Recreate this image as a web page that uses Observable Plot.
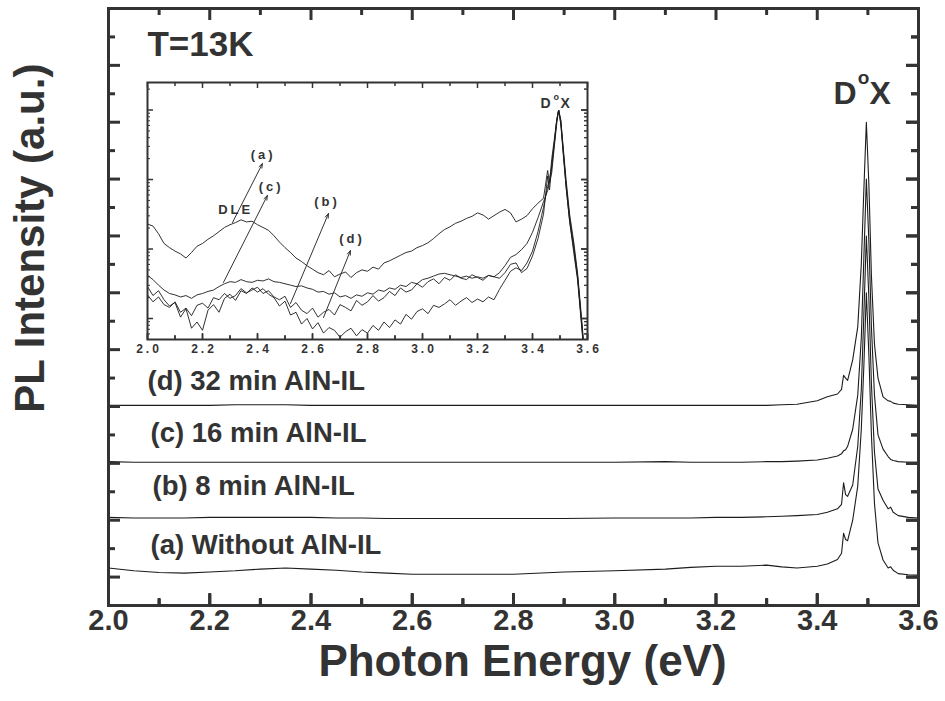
<!DOCTYPE html>
<html><head><meta charset="utf-8">
<script src="https://cdn.jsdelivr.net/npm/d3@7"></script>
<script src="https://cdn.jsdelivr.net/npm/@observablehq/plot@0.6"></script>
<style>
html,body{margin:0;padding:0;background:#fff;overflow:hidden;}
#wrap{position:relative;width:945px;height:701px;}
#wrap svg text{font-family:"Liberation Sans",Arial,Helvetica,sans-serif;}
#wrap svg.insetplot text{letter-spacing:3px;}
</style></head><body><div id="wrap"></div>
<script>
// ---------- main panel data (normalized PL, vertically offset as plotted) ----------
const seriesNames = ["a","b","c","d"];
const mainE = [2.00,2.05,2.10,2.15,2.20,2.25,2.30,2.35,2.40,2.45,2.50,2.55,2.60,2.70,2.80,2.90,3.00,3.10,3.15,3.20,3.25,3.30,3.33,3.36,3.40,3.42,3.44,3.448,3.452,3.456,3.46,3.47,3.48,3.487,3.492,3.497,3.502,3.507,3.513,3.52,3.53,3.54,3.545,3.55,3.56,3.58,3.60];
const mainA = [0.16,0.11,0.08,0.07,0.09,0.11,0.14,0.16,0.14,0.12,0.09,0.07,0.05,0.05,0.05,0.09,0.11,0.14,0.17,0.19,0.19,0.21,0.18,0.16,0.19,0.23,0.31,0.42,0.77,0.66,0.64,1.0,1.6,2.6,3.7,5.0,3.9,2.5,1.3,0.6,0.3,0.16,0.18,0.12,0.06,0.04,0.035];
const mainB = [1.05,1.04,1.04,1.04,1.05,1.05,1.05,1.05,1.05,1.04,1.04,1.03,1.03,1.03,1.03,1.03,1.04,1.04,1.04,1.05,1.05,1.06,1.07,1.08,1.10,1.14,1.20,1.28,1.66,1.45,1.42,1.62,2.3,3.3,4.6,6.0,4.9,3.4,2.2,1.55,1.35,1.2,1.23,1.14,1.08,1.05,1.04];
const mainC = [2.03,2.02,2.02,2.02,2.02,2.02,2.02,2.02,2.02,2.02,2.02,2.02,2.02,2.02,2.02,2.02,2.02,2.03,2.02,2.02,2.02,2.03,2.03,2.04,2.06,2.09,2.13,2.17,2.22,2.24,2.30,2.6,3.2,4.2,5.6,7.0,5.9,4.4,3.2,2.5,2.25,2.12,2.07,2.05,2.03,2.02,2.02];
const mainD = [3.02,3.02,3.02,3.02,3.02,3.03,3.03,3.03,3.02,3.02,3.02,3.02,3.02,3.02,3.02,3.02,3.02,3.02,3.02,3.02,3.02,3.02,3.03,3.04,3.10,3.17,3.22,3.30,3.55,3.50,3.46,3.82,4.4,5.5,6.8,8.0,6.9,5.3,4.1,3.5,3.17,3.1,3.09,3.06,3.04,3.03,3.02];
const mainVals = [mainA, mainB, mainC, mainD];

// main axes
const xDomain = [2.0, 3.6];
const yDomain = [-0.5, 10];
const xMajor = [2.0,2.2,2.4,2.6,2.8,3.0,3.2,3.4,3.6];
const xMinor = [2.1,2.3,2.5,2.7,2.9,3.1,3.3,3.5];
const yMajor = [0,1,2,3,4,5,6,7,8,9];
const yMinor = [0.5,1.5,2.5,3.5,4.5,5.5,6.5,7.5,8.5,9.5];
const xTitle = "Photon Energy (eV)";
const yTitle = "PL Intensity (a.u.)";
const yTitlePos = [1.847, 5.96];

// main annotations
const noteText = ["T=13K","(d) 32 min AlN-IL","(c) 16 min AlN-IL","(b) 8 min AlN-IL","(a) Without AlN-IL"];
const noteX = [2.077,2.077,2.083,2.087,2.083];
const noteY = [9.36,3.45,2.53,1.60,0.56];
const noteSize = [35,27.5,27.5,27.5,27.5];
const dxText = ["D","o","X"];
const dxX = [3.432,3.480,3.503];
const dxY = [8.50,8.78,8.50];
const dxSize = [32,19,32];

// ---------- inset data (log10 of normalized PL) ----------
const insetE = [2.00,2.02,2.04,2.06,2.08,2.10,2.12,2.14,2.16,2.18,2.20,2.22,2.24,2.26,2.28,2.30,2.32,2.34,2.36,2.38,2.40,2.42,2.44,2.46,2.48,2.50,2.52,2.54,2.56,2.58,2.60,2.62,2.64,2.66,2.68,2.70,2.72,2.74,2.76,2.78,2.80,2.82,2.84,2.86,2.88,2.90,2.92,2.94,2.96,2.98,3.00,3.02,3.04,3.06,3.08,3.10,3.12,3.14,3.16,3.18,3.20,3.22,3.24,3.26,3.28,3.30,3.32,3.34,3.36,3.38,3.40,
  3.42,3.44,3.455,3.462,3.47,3.48,3.488,3.495,3.503,3.512,3.522,3.535,3.55,3.564,3.575,3.585,3.60];
const insetA = [1.36,1.33,1.22,1.08,1.02,0.97,0.93,0.87,0.95,1.04,
  1.08,1.14,1.19,1.25,1.31,1.35,1.38,1.42,1.39,1.40,
  1.35,1.31,1.27,1.19,1.10,1.02,0.95,0.87,0.82,0.76,
  0.71,0.66,0.63,0.69,0.60,0.64,0.67,0.59,0.66,0.70,
  0.68,0.74,0.71,0.80,0.83,0.87,0.91,0.95,0.97,1.02,
  1.05,1.09,1.15,1.22,1.28,1.32,1.37,1.40,1.44,1.47,
  1.52,1.49,1.43,1.48,1.53,1.57,1.52,1.39,1.43,1.48,
  1.58,
  1.66,1.73,2.13,1.95,2.3,2.6,2.85,3.0,2.85,2.45,2.0,1.5,1.1,0.65,0.16,-0.3,-0.7];
const insetB = [0.34,0.24,0.31,0.20,0.16,0.24,0.09,0.15,0.04,0.19,
  0.22,0.15,0.30,0.27,0.36,0.29,0.33,0.43,0.37,0.41,
  0.45,0.36,0.40,0.31,0.27,0.32,0.16,0.23,0.12,0.07,
  0.15,0.02,0.09,0.13,0.05,0.20,0.16,0.11,0.26,0.19,
  0.24,0.33,0.25,0.30,0.39,0.33,0.44,0.38,0.41,0.50,
  0.45,0.53,0.57,0.50,0.59,0.55,0.63,0.58,0.56,0.63,
  0.59,0.55,0.62,0.60,0.58,0.66,0.78,0.80,0.66,0.72,
  0.90,
  1.15,1.5,2.05,1.85,2.2,2.55,2.85,3.0,2.8,2.35,1.9,1.4,0.95,0.55,0.05,-0.4,-0.7];
const insetC = [0.62,0.56,0.48,0.41,0.36,0.34,0.31,0.33,0.29,0.34,
  0.36,0.39,0.41,0.46,0.50,0.53,0.52,0.56,0.53,0.52,
  0.55,0.54,0.57,0.53,0.52,0.50,0.48,0.46,0.47,0.44,
  0.42,0.38,0.39,0.35,0.37,0.31,0.33,0.29,0.34,0.32,
  0.37,0.35,0.41,0.39,0.44,0.42,0.48,0.46,0.52,0.50,
  0.56,0.58,0.61,0.64,0.65,0.63,0.61,0.59,0.61,0.58,
  0.60,0.58,0.62,0.60,0.66,0.76,0.88,0.92,0.99,1.08,
  1.24,
  1.45,1.68,1.84,1.96,2.1,2.5,2.8,3.0,2.85,2.4,1.95,1.45,1.05,0.6,0.1,-0.35,-0.7];
const insetD = [0.46,0.33,0.40,0.27,0.18,0.23,0.02,0.14,-0.14,-0.05,
  -0.17,0.12,0.20,0.09,0.29,0.35,0.26,0.40,0.36,0.44,
  0.38,0.43,0.35,0.30,0.18,0.25,0.05,0.09,-0.08,0.00,
  -0.15,-0.06,-0.21,-0.13,-0.17,-0.27,-0.19,-0.14,-0.25,-0.16,
  -0.21,-0.10,-0.17,-0.05,-0.13,-0.02,-0.08,0.06,-0.01,0.10,
  0.14,0.07,0.19,0.16,0.21,0.27,0.19,0.25,0.30,0.23,
  0.28,0.24,0.31,0.27,0.42,0.55,0.68,0.73,0.69,0.80,
  0.97,
  1.25,1.6,1.9,2.0,2.2,2.55,2.85,3.0,2.8,2.4,1.9,1.4,1.0,0.6,0.1,-0.35,-0.7];
const insetVals = [insetA, insetB, insetC, insetD];

const insetXDomain = [2.0, 3.6];
const insetYDomainLog = [-0.302, 3.396];
const insetXMajor = [2.0,2.2,2.4,2.6,2.8,3.0,3.2,3.4,3.6];
const insetXMinor = [2.1,2.3,2.5,2.7,2.9,3.1,3.3,3.5];
const insetYMajor = [1,10,100,1000];
const insetYMinor = [0.6,0.7,0.8,0.9,2,3,4,5,6,7,8,9,20,30,40,50,60,70,80,90,200,300,400,500,600,700,800,900,2000];

const insetNoteText = ["DLE","(a)","(c)","(b)","(d)"];
const insetNoteE = [2.315,2.415,2.444,2.647,2.738];
const insetNoteLog = [1.57,2.35,1.90,1.68,1.14];
const insetDxE = [3.429,3.476,3.502];
const insetDxLog = [3.09,3.18,3.09];
const insetDxSize = [14,9,14];

const arrowE1 = [2.309,2.276,2.52,2.64];
const arrowL1 = [1.381,0.518,0.216,0.014];
const arrowE2 = [2.418,2.436,2.658,2.738];
const arrowL2 = [2.23,1.77,1.51,0.978];

// ---------- build ----------
const ink = "#333";
const lineInk = "#1c1c1c";
const W = 945, H = 701, mL = 108, mR = 27, mT = 8, mB = 96;
const fw = W - mL - mR, fh = H - mT - mB;
const wrap = document.getElementById("wrap");

const mainData = seriesNames.flatMap((s, i) => mainE.map((e, j) => ({s, e, v: mainVals[i][j]})));
const idx5 = noteText.map((_, i) => i);
const idx3 = dxText.map((_, i) => i);

// inward ticks on all four sides, lengths in pixels converted through the scale extents
function boxTicks(xs, ys, xd, yd, pxW, pxH, len, sw, logY) {
  const fy = logY ? (v => Math.log10(v)) : (v => v);
  const gy = logY ? (v => Math.pow(10, v)) : (v => v);
  const lo = fy(yd[0]), hi = fy(yd[1]);
  const dyU = len * (hi - lo) / pxH;
  const dxU = len * (xd[1] - xd[0]) / pxW;
  const out = [];
  if (xs) out.push(
    Plot.ruleX(xs.slice(), {x: d => d, y1: gy(lo), y2: gy(lo + dyU), stroke: ink, strokeWidth: sw}),
    Plot.ruleX(xs.slice(), {x: d => d, y1: gy(hi - dyU), y2: gy(hi), stroke: ink, strokeWidth: sw}),
    // same bottom ticks drawn again through Plot's axis mark (top-anchored, shifted onto the bottom edge)
    Plot.axisX(xs.slice(), {anchor: "top", tickSize: len, dy: pxH, stroke: ink, strokeWidth: sw, fill: "none", label: null}));
  if (ys) out.push(
    Plot.ruleY(ys.slice(), {y: d => d, x1: xd[0], x2: xd[0] + dxU, stroke: ink, strokeWidth: sw}),
    Plot.ruleY(ys.slice(), {y: d => d, x1: xd[1] - dxU, x2: xd[1], stroke: ink, strokeWidth: sw}),
    // same right ticks drawn again through Plot's axis mark (left-anchored, shifted onto the right edge)
    Plot.axisY(ys.slice(), {anchor: "left", tickSize: len, dx: pxW, stroke: ink, strokeWidth: sw, fill: "none", label: null}));
  return out;
}
function place(svg, left, top, cls) {
  if (cls) svg.classList.add(cls);
  svg.style.position = "absolute";
  svg.style.left = left + "px";
  svg.style.top = top + "px";
  wrap.appendChild(svg);
}

// main panel: curves and texts
const main = Plot.plot({
  width: W, height: H,
  marginLeft: mL, marginRight: mR, marginTop: mT, marginBottom: mB,
  x: {domain: xDomain, axis: null},
  y: {domain: yDomain, axis: null},
  style: {background: "#fff", color: ink, overflow: "visible"},
  marks: [
    Plot.line(mainData, {x: "e", y: "v", z: "s", stroke: lineInk, strokeWidth: 1.1}),
    Plot.text(xMajor, {x: d => d, text: d => d.toFixed(1), frameAnchor: "bottom", dy: 24, fontSize: 29, fontWeight: "bold", fill: ink}),
    Plot.text([xTitle], {text: d => d, frameAnchor: "bottom", dx: 9, dy: 70, fontSize: 44, fontWeight: "bold", fill: ink}),
    Plot.text([yTitle], {x: () => yTitlePos[0], y: () => yTitlePos[1], text: d => d, rotate: -90, fontSize: 42, fontWeight: "bold", fill: ink}),
    Plot.text(idx5, {x: i => noteX[i], y: i => noteY[i], text: i => noteText[i], fontSize: i => noteSize[i], textAnchor: "start", fontWeight: "bold", fill: ink}),
    ...idx3.map(i => Plot.text([dxText[i]], {x: () => dxX[i], y: () => dxY[i], text: d => d, fontSize: dxSize[i], textAnchor: "start", fontWeight: "bold", fill: ink}))
  ]
});
place(main, 0, 0);

// main panel: frame and inward ticks (same scales, transparent layer)
const mainBox = Plot.plot({
  width: W, height: H,
  marginLeft: mL, marginRight: mR, marginTop: mT, marginBottom: mB,
  x: {domain: xDomain, axis: null},
  y: {domain: yDomain, axis: null},
  style: {background: "transparent", overflow: "visible"},
  marks: [
    Plot.frame({stroke: ink, strokeWidth: 3}),
    ...boxTicks(xMajor, yMajor, xDomain, yDomain, fw, fh, 12, 3, false),
    ...boxTicks(xMinor, yMinor, xDomain, yDomain, fw, fh, 7, 3, false)
  ]
});
place(mainBox, 0, 0);

// inset
const iW = 460, iH = 295, imL = 10, imR = 10, imT = 10, imB = 28;
const ifw = iW - imL - imR, ifh = iH - imT - imB;
const insetYDomain = insetYDomainLog.map(v => Math.pow(10, v));
const insetData = seriesNames.flatMap((s, i) => insetE.map((e, j) => ({s, e, v: Math.pow(10, insetVals[i][j])})));
const idxA = arrowE1.map((_, i) => i);
const idxN = insetNoteText.map((_, i) => i);

const inset = Plot.plot({
  width: iW, height: iH,
  marginLeft: imL, marginRight: imR, marginTop: imT, marginBottom: imB,
  x: {domain: insetXDomain, axis: null},
  y: {type: "log", domain: insetYDomain, axis: null},
  style: {background: "transparent", color: ink, overflow: "visible"},
  marks: [
    Plot.line(insetData, {x: "e", y: "v", z: "s", stroke: lineInk, strokeWidth: 0.9, clip: true}),
    Plot.text(insetXMajor, {x: d => d, text: d => d.toFixed(1), frameAnchor: "bottom", dy: 13, dx: 1.5, fontSize: 12, fontWeight: "bold", fill: ink}),
    Plot.arrow(idxA, {
      x1: i => arrowE1[i], y1: i => Math.pow(10, arrowL1[i]),
      x2: i => arrowE2[i], y2: i => Math.pow(10, arrowL2[i]),
      stroke: ink, strokeWidth: 1, headLength: 7, headAngle: 40
    }),
    Plot.text(idxN, {x: i => insetNoteE[i], y: i => Math.pow(10, insetNoteLog[i]), text: i => insetNoteText[i], dx: 1.5, fontSize: 13, fontWeight: "bold", fill: ink}),
    ...idx3.map(i => Plot.text([dxText[i]], {x: () => insetDxE[i], y: () => Math.pow(10, insetDxLog[i]), text: d => d, fontSize: insetDxSize[i], textAnchor: "start", fontWeight: "bold", fill: ink}))
  ]
});
place(inset, 137, 72, "insetplot");

const insetBox = Plot.plot({
  width: iW, height: iH,
  marginLeft: imL, marginRight: imR, marginTop: imT, marginBottom: imB,
  x: {domain: insetXDomain, axis: null},
  y: {type: "log", domain: insetYDomain, axis: null},
  style: {background: "transparent", overflow: "visible"},
  marks: [
    Plot.frame({stroke: ink, strokeWidth: 2}),
    ...boxTicks(insetXMajor, insetYMajor, insetXDomain, insetYDomain, ifw, ifh, 6, 1.5, true),
    ...boxTicks(insetXMinor, null, insetXDomain, insetYDomain, ifw, ifh, 4, 1.5, true),
    ...boxTicks(null, insetYMinor, insetXDomain, insetYDomain, ifw, ifh, 3, 1, true)
  ]
});
place(insetBox, 137, 72);
</script>
</body></html>
